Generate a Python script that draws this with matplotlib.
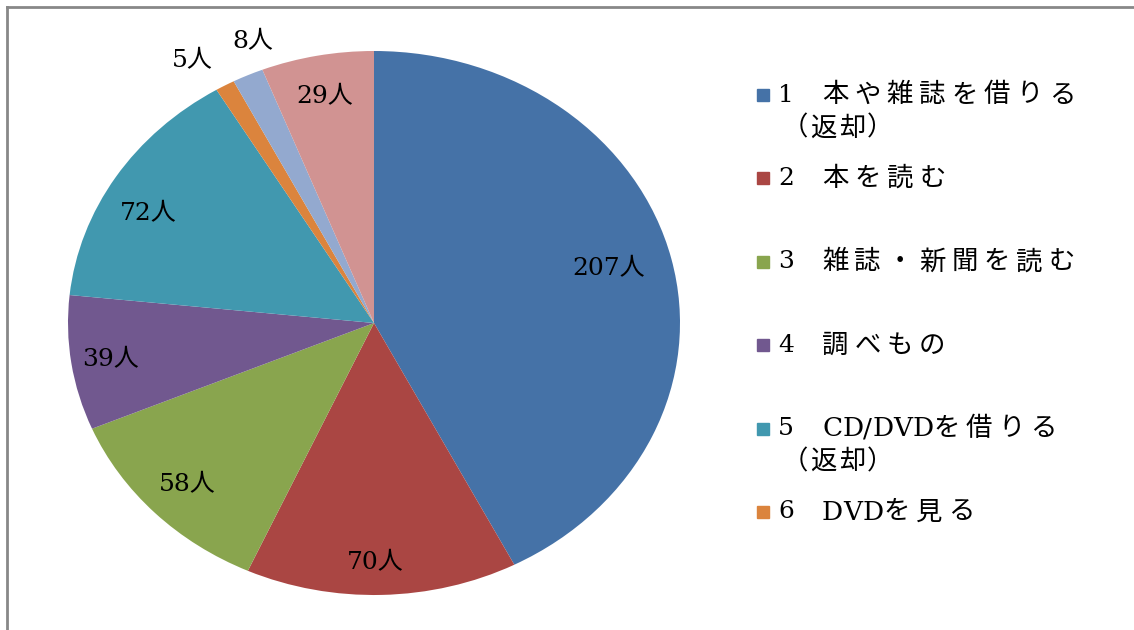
import numpy as np
import matplotlib.pyplot as plt
from matplotlib.lines import Line2D
from matplotlib.patches import Rectangle

plt.rcParams['font.family'] = ['DejaVu Serif', 'Noto Sans CJK JP']

values = [207, 70, 58, 39, 72, 5, 8, 29]
value_labels = [f'{v}人' for v in values]
legend_nums = ['1', '2', '3', '4', '5', '6']
legend_texts = ['本や雑誌を借りる\n（返却）', '本を読む', '雑誌・新聞を読む',
                '調べもの', 'CD/DVDを借りる\n（返却）', 'DVDを見る']
colors = ['#4572A7', '#AA4643', '#89A54E', '#71588F',
          '#4198AF', '#DB843D', '#93A9CF', '#D19392']
label_r = [0.79, 0.87, 0.85, 0.87, 0.84, 1.13, 1.11, 0.86]  # label radius
label_off = [(0, 4), (-6, -3), (0, 0), (0, -2), (-9, -13), (-13, -6), (19, 6), (0, -4)]

W, H = 1134, 630
fig = plt.figure(figsize=(W / 100, H / 100), dpi=100)

# pie is stretched horizontally (ellipse) like the original
ax = fig.add_axes([68 / W, (H - 595) / H, (680 - 68) / W, (595 - 51) / H])
wedges, _ = ax.pie(values, colors=colors, startangle=90, counterclock=False,
                   radius=1, wedgeprops=dict(linewidth=0))
ax.set_aspect('auto')
ax.set_xlim(-1, 1)
ax.set_ylim(-1, 1)
ax.axis('off')

for w, lab, r, off in zip(wedges, value_labels, label_r, label_off):
    ang = np.deg2rad((w.theta1 + w.theta2) / 2)
    ax.annotate(lab, (r * np.cos(ang), r * np.sin(ang)), xytext=off,
                textcoords='offset pixels', ha='center', va='center',
                fontsize=18, color='black', annotation_clip=False)

renderer = fig.canvas.get_renderer()


def spaced_text(x, y, s, size, gap=6):
    # draw string char by char, wider spacing for Japanese characters
    for ch in s:
        t = fig.text(x / W, (H - y) / H, ch, ha='left', va='center', fontsize=size)
        w = t.get_window_extent(renderer).width
        x += w + (gap if ord(ch) > 127 else 0)


# legend (only first 6 entries are visible in the original)
y0, dy = 95, 83.4
for i, (num, txt) in enumerate(zip(legend_nums, legend_texts)):
    y = y0 + i * dy
    fig.patches.append(Rectangle((757 / W, (H - y - 6) / H), 12 / W, 12 / H,
                                 transform=fig.transFigure, color=colors[i]))
    fig.text(778 / W, (H - y) / H, num, ha='left', va='center', fontsize=18)
    lines = txt.split('\n')
    spaced_text(822, y, lines[0], 19)
    for k, extra in enumerate(lines[1:]):
        spaced_text(782, y + 33 * (k + 1), extra, 19, gap=2)

# chart area border (top and left visible)
fig.lines.append(Line2D([7 / W, 1], [1 - 7 / H, 1 - 7 / H],
                        transform=fig.transFigure, color='#888888', lw=2))
fig.lines.append(Line2D([7 / W, 7 / W], [0, 1 - 7 / H],
                        transform=fig.transFigure, color='#888888', lw=2))

fig.savefig('out.png', dpi=100)
